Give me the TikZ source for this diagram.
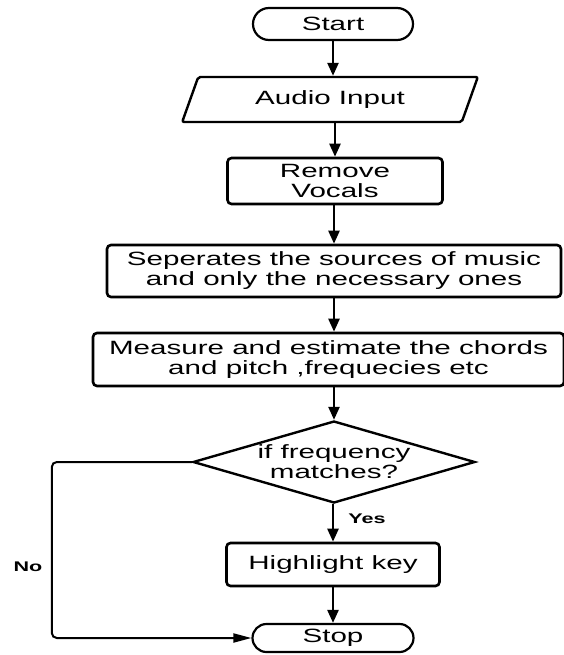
\documentclass[tikz,border=0pt]{standalone}
\usepackage{fontspec}
\setmainfont{Liberation Sans}[FakeStretch=1.54]
\usetikzlibrary{shapes.geometric,shapes.misc,arrows.meta}

\tikzset{
	boxtext/.style={font=\fontsize{19.2}{20}\selectfont, align=center, inner sep=0pt},
	procbox/.style={rectangle, draw, line width=2.6pt, rounded corners=4pt, boxtext},
	terminal/.style={rounded rectangle, draw, line width=2.2pt, boxtext},
	iobox/.style={trapezium, trapezium left angle=63, trapezium right angle=117, trapezium stretches=true, draw, line width=2.4pt, rounded corners=2pt, boxtext},
	decision/.style={diamond, draw, line width=2.4pt, aspect=3.44, boxtext},
	flow/.style={-{Triangle[length=13pt,width=11pt]}, line width=2.4pt},
	branch/.style={font=\bfseries\fontsize{14}{16}\selectfont}
}

\begin{document}
\begin{tikzpicture}[x=1pt,y=-1pt]
	\useasboundingbox (0,0) rectangle (564,655);
	
	%Flow chart
	\node (start) at (333,24) [terminal, minimum width=160pt, minimum height=32pt]{Start};
	
	\node (audio) at (330,99.5) [iobox, minimum width=296pt, minimum height=45pt]{Audio Input};
	
	\node (remove) at (335,181) [procbox, minimum width=215pt, minimum height=46pt]{Remove\\Vocals};
	
	\node (separate) at (334,271) [procbox, minimum width=454pt, minimum height=52pt]{Seperates the sources of music\\and only the necessary ones};
	
	\node (measure) at (328.5,359.5) [procbox, minimum width=471pt, minimum height=53pt]{Measure and estimate the chords\\and pitch ,frequecies etc};
	
	\node (match) at (334,462) [decision, minimum width=282pt, minimum height=82pt]{if frequency\\matches?};
	
	\node (highlight) at (333,564.5) [procbox, minimum width=213pt, minimum height=43pt]{Highlight key};
	
	\node (stop) at (333,638) [terminal, minimum width=161pt, minimum height=28pt]{Stop};
	
	%Labels
	\node (yes) at (367,519) [branch]{Yes};
	\node (no) at (28,567) [branch]{No};
	
	%Links
	\draw[flow] (start.south) -- (start.south |- audio.north);
	\draw[flow] (remove.north |- audio.south) -- (remove.north);
	\draw[flow] (separate.north |- remove.south) -- (separate.north);
	\draw[flow] (separate.south) -- (separate.south |- measure.north);
	\draw[flow] (match.north |- measure.south) -- (match.north);
	\draw[flow] (highlight.north |- match.south) -- (highlight.north);
	\draw[flow] (highlight.south) -- (stop.north);
	
	\draw[line width=2pt, rounded corners=5pt, -{Triangle[length=18pt,width=9pt]}] (match.west) -- ++(-140,0) |- (stop.west);
	
\end{tikzpicture}
\end{document}
